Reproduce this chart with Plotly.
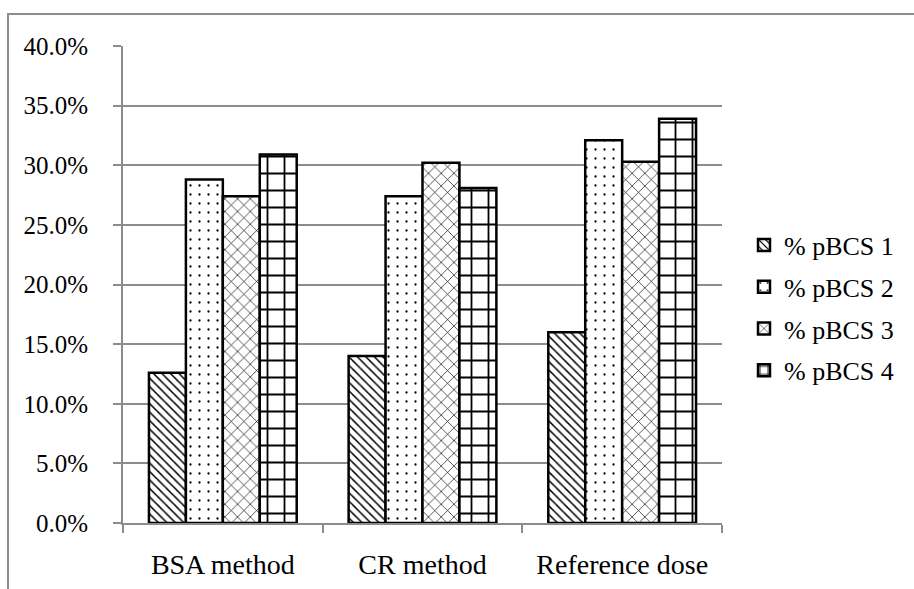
import plotly.graph_objects as go

categories = ["BSA method", "CR method", "Reference dose"]
series_names = ["% pBCS 1", "% pBCS 2", "% pBCS 3", "% pBCS 4"]
pbcs1 = [0.126, 0.140, 0.160]
pbcs2 = [0.288, 0.274, 0.321]
pbcs3 = [0.274, 0.302, 0.303]
pbcs4 = [0.309, 0.281, 0.339]
tick_vals = [0, 0.05, 0.10, 0.15, 0.20, 0.25, 0.30, 0.35, 0.40]

all_series = [pbcs1, pbcs2, pbcs3, pbcs4]
patterns = [
    dict(shape="\\", size=6, solidity=0.25),
    dict(shape=".", size=9, solidity=0.05),
    dict(shape="x", size=9, solidity=0.14),
    dict(shape="+", size=17, solidity=0.2),
]

FONT = "Liberation Serif"
fig = go.Figure()
for i, (name, vals) in enumerate(zip(series_names, all_series)):
    p = patterns[i]
    fig.add_trace(go.Bar(
        x=categories, y=vals, name=name, legendgroup=f"g{i}",
        marker=dict(color="white", line=dict(color="black", width=2.5),
                    pattern=dict(shape=p["shape"], size=p["size"], solidity=p["solidity"],
                                 fgcolor="black", bgcolor="white", fillmode="replace")),
    ))

fig.update_layout(
    width=914, height=589,
    margin=dict(l=123, r=192, t=46, b=66),
    paper_bgcolor="white", plot_bgcolor="white",
    barmode="group", bargap=0.26, bargroupgap=0,
    font=dict(family=FONT, size=25, color="black"),
    legend=dict(x=(744 - 123) / 599, y=(523 - 308) / 477, yanchor="middle", xanchor="left",
                tracegroupgap=5, font=dict(size=26, family=FONT),
                itemwidth=30),
    showlegend=True,
)
fig.update_yaxes(range=[0, 0.40], tickvals=tick_vals, tickformat=".1%",
                 tickfont=dict(size=25, family=FONT), automargin=False,
                 showgrid=True, gridcolor="#8c8c8c", gridwidth=2,
                 showline=True, linecolor="#8c8c8c", linewidth=2,
                 ticks="outside", ticklen=8, tickcolor="#8c8c8c", tickwidth=2,
                 ticklabelstandoff=20, zeroline=False)
fig.update_xaxes(tickfont=dict(size=28, family=FONT), automargin=False,
                 showline=True, linecolor="#8c8c8c", linewidth=2,
                 ticks="outside", tickson="boundaries", ticklen=8,
                 tickcolor="#8c8c8c", tickwidth=2, ticklabelstandoff=15,
                 showgrid=False)

fig.add_shape(type="rect", xref="paper", yref="paper",
              x0=(8 - 123) / 599, x1=(930 - 123) / 599,
              y0=(523 - 600) / 477, y1=(523 - 14) / 477,
              line=dict(color="#8c8c8c", width=2), fillcolor="rgba(0,0,0,0)", layer="below")

fig.write_html("out.html")
